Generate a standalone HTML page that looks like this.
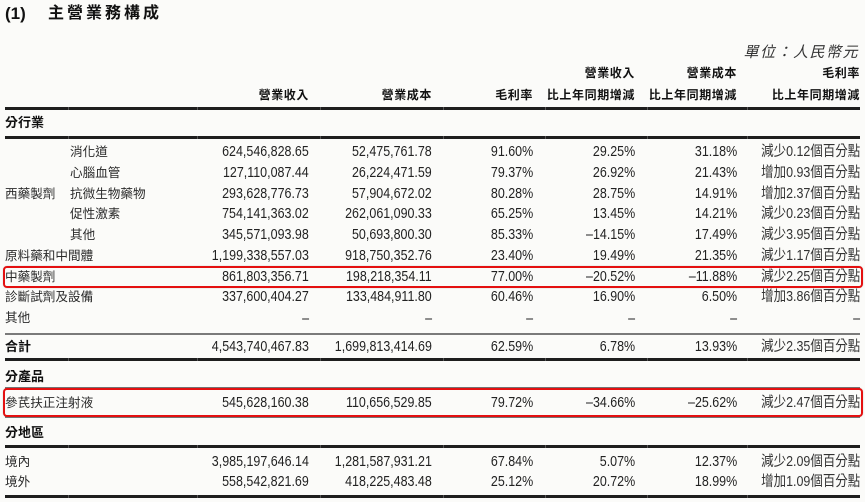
<!DOCTYPE html>
<html><head><meta charset="utf-8">
<style>
html,body{margin:0;padding:0}
body{width:865px;height:502px;position:relative;overflow:hidden;background:#fbfbf9;
font-family:"Liberation Sans","Noto Sans CJK TC",sans-serif;color:#2a2a2a}
.t{position:absolute;white-space:nowrap;height:20px;line-height:20px}
.n{font-size:14.5px;letter-spacing:0;transform:scaleX(0.86);transform-origin:right center;color:#222}
.c{font-size:12.6px;letter-spacing:0}
.p{font-size:14.5px;letter-spacing:0;transform:scaleX(0.86);transform-origin:right center;color:#333}
.b{font-weight:bold;color:#111}
.h{font-size:12px;font-weight:bold;letter-spacing:0.6px;color:#111}
.L{position:absolute;left:5px;width:855px;background:#1e1e1e}
.thick{height:3px}
.thin{height:2px;background:#7a7a7a}
.g{position:absolute;width:1px;background:#555}
.box{position:absolute;left:3px;width:856px;border:2px solid #e41010;border-radius:4px;box-shadow:0 0 1px rgba(0,0,0,.3)}
</style></head><body>

<div class="t b" style="left:5px;top:4px;font-size:17px;">(1)</div>
<div class="t b" style="left:48px;top:4px;font-size:16px;letter-spacing:3px;">主營業務構成</div>
<div class="t" style="right:6px;top:43px;font-size:15px;font-style:italic;letter-spacing:1.5px;color:#333;">單位：人民幣元</div>

<!-- header -->
<div class="t h" style="right:230px;top:63px;">營業收入</div>
<div class="t h" style="right:128px;top:63px;">營業成本</div>
<div class="t h" style="right:5px;top:63px;">毛利率</div>
<div class="t h" style="right:556px;top:85px;">營業收入</div>
<div class="t h" style="right:433px;top:85px;">營業成本</div>
<div class="t h" style="right:332px;top:85px;">毛利率</div>
<div class="t h" style="right:230px;top:85px;">比上年同期增減</div>
<div class="t h" style="right:128px;top:85px;">比上年同期增減</div>
<div class="t h" style="right:5px;top:85px;">比上年同期增減</div>

<!-- lines -->
<div class="L thick" style="top:107px"></div>
<div class="L thick" style="top:136px"></div>
<div class="L thin" style="top:333px"></div>
<div class="L thick" style="top:358px"></div>
<div class="L thin" style="top:387px"></div>
<div class="L thin" style="top:416px"></div>
<div class="L thick" style="top:445px"></div>
<div class="L thick" style="top:495px"></div>

<!-- gaps in lines -->
<div class="g" style="left:68px;top:107px;height:3px"></div>
<div class="g" style="left:197px;top:107px;height:3px"></div>
<div class="g" style="left:320px;top:107px;height:3px"></div>
<div class="g" style="left:443px;top:107px;height:3px"></div>
<div class="g" style="left:545px;top:107px;height:3px"></div>
<div class="g" style="left:647px;top:107px;height:3px"></div>
<div class="g" style="left:747px;top:107px;height:3px"></div>
<div class="g" style="left:68px;top:136px;height:3px"></div>
<div class="g" style="left:197px;top:136px;height:3px"></div>
<div class="g" style="left:320px;top:136px;height:3px"></div>
<div class="g" style="left:443px;top:136px;height:3px"></div>
<div class="g" style="left:545px;top:136px;height:3px"></div>
<div class="g" style="left:647px;top:136px;height:3px"></div>
<div class="g" style="left:747px;top:136px;height:3px"></div>
<div class="g" style="left:68px;top:358px;height:3px"></div>
<div class="g" style="left:197px;top:358px;height:3px"></div>
<div class="g" style="left:320px;top:358px;height:3px"></div>
<div class="g" style="left:443px;top:358px;height:3px"></div>
<div class="g" style="left:545px;top:358px;height:3px"></div>
<div class="g" style="left:647px;top:358px;height:3px"></div>
<div class="g" style="left:747px;top:358px;height:3px"></div>
<div class="g" style="left:68px;top:445px;height:3px"></div>
<div class="g" style="left:197px;top:445px;height:3px"></div>
<div class="g" style="left:320px;top:445px;height:3px"></div>
<div class="g" style="left:443px;top:445px;height:3px"></div>
<div class="g" style="left:545px;top:445px;height:3px"></div>
<div class="g" style="left:647px;top:445px;height:3px"></div>
<div class="g" style="left:747px;top:445px;height:3px"></div>
<div class="g" style="left:68px;top:495px;height:3px"></div>
<div class="g" style="left:197px;top:495px;height:3px"></div>
<div class="g" style="left:320px;top:495px;height:3px"></div>
<div class="g" style="left:443px;top:495px;height:3px"></div>
<div class="g" style="left:545px;top:495px;height:3px"></div>
<div class="g" style="left:647px;top:495px;height:3px"></div>
<div class="g" style="left:747px;top:495px;height:3px"></div>

<!-- red boxes -->
<div class="box" style="top:266px;height:18px"></div>
<div class="box" style="top:388px;height:25px"></div>

<!-- section labels -->
<div class="t b c" style="left:5px;top:113px;font-size:13px;">分行業</div>
<div class="t b c" style="left:5px;top:337px;font-size:13px;">合計</div>
<div class="t b c" style="left:5px;top:367px;font-size:13px;">分產品</div>
<div class="t b c" style="left:5px;top:423px;font-size:13px;">分地區</div>

<!-- row labels -->
<div class="t c" style="left:70px;top:142px">消化道</div>
<div class="t c" style="left:70px;top:163px">心腦血管</div>
<div class="t c" style="left:5px;top:184px">西藥製劑</div>
<div class="t c" style="left:70px;top:184px">抗微生物藥物</div>
<div class="t c" style="left:70px;top:204px">促性激素</div>
<div class="t c" style="left:70px;top:225px">其他</div>
<div class="t c" style="left:5px;top:246px">原料藥和中間體</div>
<div class="t c" style="left:5px;top:267px">中藥製劑</div>
<div class="t c" style="left:5px;top:287px">診斷試劑及設備</div>
<div class="t c" style="left:5px;top:308px">其他</div>
<div class="t c" style="left:5px;top:393px">參芪扶正注射液</div>
<div class="t c" style="left:5px;top:452px">境內</div>
<div class="t c" style="left:5px;top:472px">境外</div>

<!-- row 1 -->
<div class="t n" style="right:556px;top:142px">624,546,828.65</div>
<div class="t n" style="right:433px;top:142px">52,475,761.78</div>
<div class="t n" style="right:332px;top:142px">91.60%</div>
<div class="t n" style="right:230px;top:142px">29.25%</div>
<div class="t n" style="right:128px;top:142px">31.18%</div>
<div class="t p" style="right:5px;top:142px">減少0.12個百分點</div>
<!-- row 2 -->
<div class="t n" style="right:556px;top:163px">127,110,087.44</div>
<div class="t n" style="right:433px;top:163px">26,224,471.59</div>
<div class="t n" style="right:332px;top:163px">79.37%</div>
<div class="t n" style="right:230px;top:163px">26.92%</div>
<div class="t n" style="right:128px;top:163px">21.43%</div>
<div class="t p" style="right:5px;top:163px">增加0.93個百分點</div>
<!-- row 3 -->
<div class="t n" style="right:556px;top:184px">293,628,776.73</div>
<div class="t n" style="right:433px;top:184px">57,904,672.02</div>
<div class="t n" style="right:332px;top:184px">80.28%</div>
<div class="t n" style="right:230px;top:184px">28.75%</div>
<div class="t n" style="right:128px;top:184px">14.91%</div>
<div class="t p" style="right:5px;top:184px">增加2.37個百分點</div>
<!-- row 4 -->
<div class="t n" style="right:556px;top:204px">754,141,363.02</div>
<div class="t n" style="right:433px;top:204px">262,061,090.33</div>
<div class="t n" style="right:332px;top:204px">65.25%</div>
<div class="t n" style="right:230px;top:204px">13.45%</div>
<div class="t n" style="right:128px;top:204px">14.21%</div>
<div class="t p" style="right:5px;top:204px">減少0.23個百分點</div>
<!-- row 5 -->
<div class="t n" style="right:556px;top:225px">345,571,093.98</div>
<div class="t n" style="right:433px;top:225px">50,693,800.30</div>
<div class="t n" style="right:332px;top:225px">85.33%</div>
<div class="t n" style="right:230px;top:225px">–14.15%</div>
<div class="t n" style="right:128px;top:225px">17.49%</div>
<div class="t p" style="right:5px;top:225px">減少3.95個百分點</div>
<!-- row 6 -->
<div class="t n" style="right:556px;top:246px">1,199,338,557.03</div>
<div class="t n" style="right:433px;top:246px">918,750,352.76</div>
<div class="t n" style="right:332px;top:246px">23.40%</div>
<div class="t n" style="right:230px;top:246px">19.49%</div>
<div class="t n" style="right:128px;top:246px">21.35%</div>
<div class="t p" style="right:5px;top:246px">減少1.17個百分點</div>
<!-- row 7 -->
<div class="t n" style="right:556px;top:267px">861,803,356.71</div>
<div class="t n" style="right:433px;top:267px">198,218,354.11</div>
<div class="t n" style="right:332px;top:267px">77.00%</div>
<div class="t n" style="right:230px;top:267px">–20.52%</div>
<div class="t n" style="right:128px;top:267px">–11.88%</div>
<div class="t p" style="right:5px;top:267px">減少2.25個百分點</div>
<!-- row 8 -->
<div class="t n" style="right:556px;top:287px">337,600,404.27</div>
<div class="t n" style="right:433px;top:287px">133,484,911.80</div>
<div class="t n" style="right:332px;top:287px">60.46%</div>
<div class="t n" style="right:230px;top:287px">16.90%</div>
<div class="t n" style="right:128px;top:287px">6.50%</div>
<div class="t p" style="right:5px;top:287px">增加3.86個百分點</div>
<!-- row 9 -->
<div class="t n" style="right:556px;top:309px">–</div>
<div class="t n" style="right:433px;top:309px">–</div>
<div class="t n" style="right:332px;top:309px">–</div>
<div class="t n" style="right:230px;top:309px">–</div>
<div class="t n" style="right:128px;top:309px">–</div>
<div class="t n" style="right:5px;top:309px">–</div>
<!-- total -->
<div class="t n" style="right:556px;top:337px">4,543,740,467.83</div>
<div class="t n" style="right:433px;top:337px">1,699,813,414.69</div>
<div class="t n" style="right:332px;top:337px">62.59%</div>
<div class="t n" style="right:230px;top:337px">6.78%</div>
<div class="t n" style="right:128px;top:337px">13.93%</div>
<div class="t p" style="right:5px;top:337px">減少2.35個百分點</div>
<!-- product -->
<div class="t n" style="right:556px;top:393px">545,628,160.38</div>
<div class="t n" style="right:433px;top:393px">110,656,529.85</div>
<div class="t n" style="right:332px;top:393px">79.72%</div>
<div class="t n" style="right:230px;top:393px">–34.66%</div>
<div class="t n" style="right:128px;top:393px">–25.62%</div>
<div class="t p" style="right:5px;top:393px">減少2.47個百分點</div>
<!-- region -->
<div class="t n" style="right:556px;top:452px">3,985,197,646.14</div>
<div class="t n" style="right:433px;top:452px">1,281,587,931.21</div>
<div class="t n" style="right:332px;top:452px">67.84%</div>
<div class="t n" style="right:230px;top:452px">5.07%</div>
<div class="t n" style="right:128px;top:452px">12.37%</div>
<div class="t p" style="right:5px;top:452px">減少2.09個百分點</div>
<div class="t n" style="right:556px;top:472px">558,542,821.69</div>
<div class="t n" style="right:433px;top:472px">418,225,483.48</div>
<div class="t n" style="right:332px;top:472px">25.12%</div>
<div class="t n" style="right:230px;top:472px">20.72%</div>
<div class="t n" style="right:128px;top:472px">18.99%</div>
<div class="t p" style="right:5px;top:472px">增加1.09個百分點</div>

</body></html>
